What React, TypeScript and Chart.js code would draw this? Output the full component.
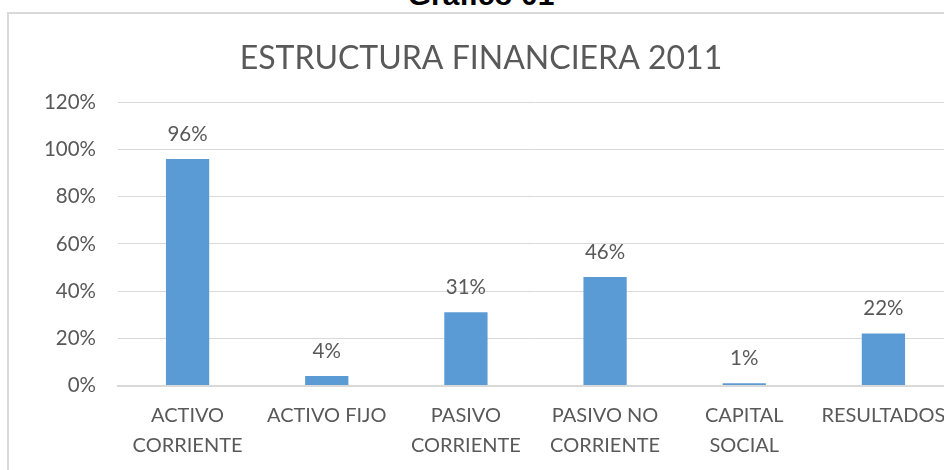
import React, { useEffect, useRef } from "react";
import { Chart, registerables } from "chart.js";

Chart.register(...registerables);

const heading = "Gráfico 01";
const chartTitle = "ESTRUCTURA FINANCIERA 2011";
const categories: string[][] = [
  ["ACTIVO", "CORRIENTE"],
  ["ACTIVO FIJO"],
  ["PASIVO", "CORRIENTE"],
  ["PASIVO NO", "CORRIENTE"],
  ["CAPITAL", "SOCIAL"],
  ["RESULTADOS"],
];
const values = [0.96, 0.04, 0.31, 0.46, 0.01, 0.22];
const yMin = 0;
const yMax = 1.2;
const yStep = 0.2;

const FONT = "Lato, 'Open Sans', sans-serif";
const GRAY = "#595959";

const pct = (v: number) => Math.round(v * 100) + "%";

const dataLabels = {
  id: "dataLabels",
  afterDatasetsDraw(chart: any) {
    const ctx = chart.ctx;
    const meta = chart.getDatasetMeta(0);
    ctx.save();
    ctx.font = `20.5px ${FONT}`;
    ctx.fillStyle = GRAY;
    ctx.textAlign = "center";
    ctx.textBaseline = "middle";
    meta.data.forEach((el: any, i: number) => {
      ctx.fillText(pct(values[i]), el.x, el.y - 25);
    });
    ctx.restore();
  },
};

export default function App() {
  const ref = useRef<HTMLCanvasElement>(null);
  useEffect(() => {
    if (!ref.current) return;
    const chart = new Chart(ref.current, {
      type: "bar",
      data: {
        labels: categories,
        datasets: [
          {
            data: values,
            backgroundColor: "#5B9BD5",
            borderWidth: 0,
            categoryPercentage: 1,
            barPercentage: 0.311,
          },
        ],
      },
      options: {
        animation: false,
        responsive: false,
        maintainAspectRatio: false,
        layout: { padding: { left: 0, right: 16, top: 0, bottom: 0 } },
        plugins: {
          legend: { display: false },
          tooltip: { enabled: false },
          title: {
            display: true,
            text: chartTitle,
            color: GRAY,
            font: { family: FONT, size: 32, weight: "normal", lineHeight: 1.2 },
            padding: { top: 25, bottom: 25 },
          },
        },
        scales: {
          x: {
            grid: { display: false, drawTicks: false },
            border: { display: true, color: "#d9d9d9", width: 2 },
            ticks: {
              color: GRAY,
              font: { family: FONT, size: 20, lineHeight: 1.5 },
              padding: 15,
              maxRotation: 0,
              autoSkip: false,
            },
            afterFit: (s: any) => {
              s.height = 84.5;
            },
          },
          y: {
            min: yMin,
            max: yMax,
            grid: { color: "#d9d9d9", drawTicks: false },
            border: { display: false },
            ticks: {
              stepSize: yStep,
              color: GRAY,
              font: { family: FONT, size: 20.5 },
              padding: 22,
              callback: (v: any) => pct(Number(v)),
            },
            afterFit: (s: any) => {
              s.width = 109;
            },
          },
        },
      },
      plugins: [dataLabels],
    });
    return () => chart.destroy();
  }, []);

  return (
    <div
      style={{
        position: "fixed",
        left: 0,
        top: 0,
        width: 944,
        height: 470,
        overflow: "hidden",
        background: "#fff",
      }}
    >
      <div
        style={{
          position: "absolute",
          left: 381,
          width: 200,
          top: -20,
          textAlign: "center",
          font: "bold 30px 'Liberation Sans', Arial, sans-serif",
          lineHeight: "30px",
          color: "#000",
        }}
      >
        {heading}
      </div>
      <div
        style={{
          position: "absolute",
          left: 7,
          top: 12,
          width: 1000,
          height: 500,
          border: "2px solid #d9d9d9",
        }}
      >
        <canvas
          ref={ref}
          width={960}
          height={456}
          style={{ position: "absolute", left: 0, top: 0, width: 960, height: 456 }}
        />
      </div>
    </div>
  );
}
